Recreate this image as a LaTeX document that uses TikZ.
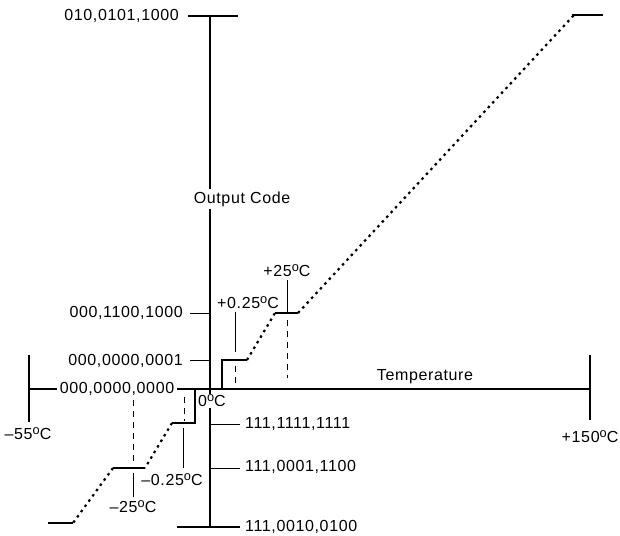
\documentclass[tikz,border=0pt]{standalone}
\usepackage{fontspec}
\setmainfont{Liberation Sans}[LetterSpace=4]
\newcommand{\degC}{\raisebox{.3em}{\scalebox{.8}{o}}C}
\begin{document}
\begin{tikzpicture}[x=1pt,y=-1pt,
  axis/.style={line width=1.6pt},
  dotline/.style={line width=2.2pt, dash pattern=on 2.5pt off 4pt},
  dashline/.style={line width=1pt, dash pattern=on 6pt off 5pt},
  thinline/.style={line width=1pt},
  lbl/.style={font=\fontsize{16}{18}\selectfont, inner sep=1pt},
  cover/.style={lbl, fill=white, inner sep=3pt}]
\useasboundingbox (0,0) rectangle (620,535);
% axes
\coordinate (top) at (210,16);
\coordinate (bot) at (210,527);
\coordinate (xl) at (29,389);
\coordinate (xr) at (590,389);
\draw[axis] (top) -- (bot);
\draw[axis] (xl) -- (xr);
% end ticks
\coordinate (n55a) at (29,355); \coordinate (n55b) at (29,422);
\coordinate (p150a) at (590,355); \coordinate (p150b) at (590,420);
\draw[axis] (n55a) -- (n55b);
\draw[axis] (p150a) -- (p150b);
\coordinate (tt1) at (188,16); \coordinate (tt2) at (238,16);
\draw[axis] (tt1) -- (tt2);
% code ticks
\coordinate (c1a) at (190,313); \coordinate (c1b) at (210,313);
\coordinate (c2a) at (190,360); \coordinate (c2b) at (210,360);
\coordinate (c3a) at (210,424); \coordinate (c3b) at (240,424);
\coordinate (c4a) at (210,468); \coordinate (c4b) at (240,468);
\coordinate (c5a) at (177,527); \coordinate (c5b) at (240,527);
\draw[thinline] (c1a) -- (c1b);
\draw[thinline] (c2a) -- (c2b);
\draw[thinline] (c3a) -- (c3b);
\draw[thinline] (c4a) -- (c4b);
\draw[axis] (c5a) -- (c5b);
% positive staircase
\coordinate (p0) at (222,389); \coordinate (p1) at (222,360); \coordinate (p2) at (247,360);
\coordinate (p3) at (275,313); \coordinate (p4) at (298,313);
\coordinate (p5) at (574,15); \coordinate (p5a) at (572,15); \coordinate (p6) at (603,15);
\draw[axis] (p0) -- (p1) -- (p2);
\draw[dotline] (p2) -- (p3);
\draw[axis] (p3) -- (p4);
\draw[dotline] (p4) -- (p5);
\draw[axis] (p5a) -- (p6);
% negative staircase
\coordinate (m0) at (195,389); \coordinate (m1) at (195,423); \coordinate (m2) at (172,423);
\coordinate (m3) at (145,468); \coordinate (m4) at (113,468);
\coordinate (m5) at (73,523); \coordinate (m6) at (48,523);
\draw[axis] (m0) -- (m1) -- (m2);
\draw[dotline] (m2) -- (m3);
\draw[axis] (m3) -- (m4);
\draw[dotline] (m4) -- (m5);
\draw[axis] (m5) -- (m6);
% annotation leaders
\coordinate (a1) at (235,312); \coordinate (a2) at (235,352);
\coordinate (a3) at (235,366); \coordinate (a4) at (235,389);
\draw[thinline] (a1) -- (a2);
\draw[dashline] (a3) -- (a4);
\coordinate (b1) at (287,280); \coordinate (b2) at (287,313);
\coordinate (b3) at (287,320); \coordinate (b4) at (287,378);
\draw[thinline] (b1) -- (b2);
\draw[dashline] (b3) -- (b4);
\coordinate (d1) at (184,397); \coordinate (d2) at (184,421);
\coordinate (d3) at (183,428); \coordinate (d4) at (183,468);
\draw[dashline] (d1) -- (d2);
\draw[thinline] (d3) -- (d4);
\coordinate (e1) at (133,400); \coordinate (e2) at (133,465);
\coordinate (e3) at (133,473); \coordinate (e4) at (133,497);
\draw[dashline] (e1) -- (e2);
\draw[thinline] (e3) -- (e4);
% labels
\node[lbl, anchor=east] (L1) at (180,16) {010,0101,1000};
\node[lbl, anchor=east] (L2) at (184,313) {000,1100,1000};
\node[lbl, anchor=east] (L3) at (184,361) {000,0000,0001};
\node[cover] (L4) at (117,389) {000,0000,0000};
\node[lbl, anchor=west] (R1) at (244,424) {111,1111,1111};
\node[lbl, anchor=west] (R2) at (244,467) {111,0001,1100};
\node[lbl, anchor=west] (R3) at (244,527) {111,0010,0100};
\node[cover] (OC) at (242,199) {Output Code};
\node[lbl] (TT) at (425,377) {Temperature};
\node[cover, inner sep=1pt] (Z) at (212,401) {0\degC};
\node[lbl] (T55) at (28,434) {–55\degC};
\node[lbl] (T150) at (590,437) {+150\degC};
\node[lbl] (Tp025) at (248,303) {+0.25\degC};
\node[lbl] (Tp25) at (287,271) {+25\degC};
\node[lbl] (Tm025) at (172,480) {–0.25\degC};
\node[lbl] (Tm25) at (133,507) {–25\degC};
\end{tikzpicture}
\end{document}
